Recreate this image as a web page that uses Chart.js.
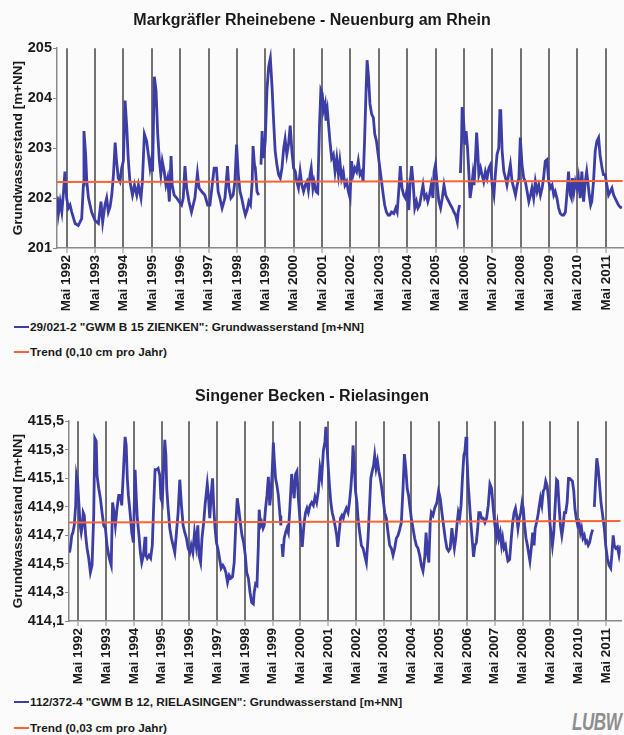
<!DOCTYPE html>
<html>
<head>
<meta charset="utf-8">
<script src="https://cdn.jsdelivr.net/npm/chart.js@4.4.0/dist/chart.umd.min.js"></script>
<style>
html,body{margin:0;padding:0;background:#fbfbfb;}
body{width:624px;height:735px;position:relative;overflow:hidden;font-family:"Liberation Sans",Arial,sans-serif;color:#1a1a1a;}
canvas{position:absolute;left:0;}
#c1{top:0;}
#c2{top:370px;}
.row{position:absolute;left:14px;white-space:nowrap;font-weight:bold;font-size:11.8px;line-height:14px;height:14px;display:flex;align-items:center;}
.sym{display:inline-block;width:15px;height:2.5px;margin-right:1px;}
.logo{position:absolute;left:572px;top:708px;font-weight:bold;font-style:italic;font-size:18px;color:#8e8e8e;letter-spacing:-0.5px;transform:scale(0.95,1.35);transform-origin:left top;}
</style>
</head>
<body>
<canvas id="c1" width="624" height="318"></canvas>
<canvas id="c2" width="624" height="321"></canvas>
<div class="row" style="top:320px"><span class="sym" style="background:#3d3da6"></span><span id="lg1a"></span></div>
<div class="row" style="top:345px"><span class="sym" style="background:#f8643a"></span><span id="lg1b"></span></div>
<div class="row" style="top:695px"><span class="sym" style="background:#3d3da6"></span><span id="lg2a"></span></div>
<div class="row" style="top:721px"><span class="sym" style="background:#f8643a"></span><span id="lg2b"></span></div>
<div class="logo">LUBW</div>
<script>
// ---------- texts ----------
const title1 = 'Markgräfler Rheinebene - Neuenburg am Rhein';
const title2 = 'Singener Becken - Rielasingen';
const yTitle = 'Grundwasserstand [m+NN]';
const seriesName1 = '29/021-2 "GWM B 15 ZIENKEN": Grundwasserstand [m+NN]';
const trendName1 = 'Trend (0,10 cm pro Jahr)';
const seriesName2 = '112/372-4 "GWM B 12, RIELASINGEN": Grundwasserstand [m+NN]';
const trendName2 = 'Trend (0,03 cm pro Jahr)';

// ---------- ticks ----------
const tickYears = [1992,1993,1994,1995,1996,1997,1998,1999,2000,2001,2002,2003,2004,2005,2006,2007,2008,2009,2010,2011];
const tickMonthLabel = 'Mai';
const yTicks1 = [201,202,203,204,205];
const yTicks2 = [414.1,414.3,414.5,414.7,414.9,415.1,415.3,415.5];

// ---------- chart 1: Neuenburg (decimal years / m+NN) ----------
const dates1 = [
1992.00,1992.04,1992.10,1992.16,1992.22,1992.27,1992.33,1992.39,1992.45,1992.51,1992.63,1992.74,1992.86,1992.92,1992.94,1993.00,1993.04,1993.10,1993.21,1993.33,
1993.45,1993.54,1993.60,1993.68,1993.74,1993.80,1993.86,1993.92,1993.98,1994.04,1994.09,1994.15,1994.21,1994.27,1994.33,1994.39,1994.45,1994.50,1994.56,1994.65,
1994.72,1994.80,1994.86,1994.95,1995.00,1995.07,1995.15,1995.21,1995.27,1995.33,1995.36,1995.42,1995.48,1995.54,1995.60,1995.65,1995.70,1995.77,1995.83,1995.89,
1995.95,1996.01,1996.05,1996.12,1996.21,1996.29,1996.38,1996.44,1996.50,1996.56,1996.64,1996.73,1996.85,1996.94,1997.00,1997.09,1997.20,1997.30,1997.38,1997.46,
1997.53,1997.61,1997.67,1997.73,1997.81,1997.91,1998.00,1998.05,1998.12,1998.20,1998.26,1998.32,1998.38,1998.44,1998.50,1998.57,1998.63,1998.69,1998.75,1998.81,
1998.87,1998.90,1998.95,1998.98,1999.04,1999.10,1999.14,1999.18,1999.22,1999.27,1999.33,1999.39,1999.45,1999.51,1999.57,1999.63,1999.68,1999.74,1999.80,1999.86,
1999.92,1999.98,2000.03,2000.09,2000.15,2000.21,2000.27,2000.33,2000.39,2000.44,2000.50,2000.56,2000.62,2000.68,2000.74,2000.80,2000.85,2000.91,2000.95,2001.01,
2001.05,2001.12,2001.18,2001.24,2001.29,2001.34,2001.38,2001.44,2001.47,2001.52,2001.57,2001.61,2001.67,2001.73,2001.79,2001.85,2001.91,2001.96,2002.02,2002.08,
2002.14,2002.20,2002.26,2002.32,2002.37,2002.43,2002.49,2002.55,2002.61,2002.67,2002.73,2002.78,2002.83,2002.88,2002.92,2002.97,2003.02,2003.08,2003.14,2003.19,
2003.25,2003.31,2003.37,2003.43,2003.49,2003.54,2003.60,2003.66,2003.72,2003.78,2003.86,2003.93,2003.98,2004.05,2004.09,2004.15,2004.21,2004.27,2004.34,2004.39,
2004.44,2004.49,2004.54,2004.60,2004.66,2004.71,2004.77,2004.83,2004.89,2004.95,2005.01,2005.06,2005.12,2005.18,2005.24,2005.28,2005.33,2005.39,2005.45,2005.51,
2005.57,2005.63,2005.69,2005.74,2005.80,2005.86,2005.92,2005.98,2006.04,2006.10,2006.13,2006.18,2006.19,2006.21,2006.25,2006.27,2006.32,2006.37,2006.41,2006.46,
2006.51,2006.55,2006.60,2006.65,2006.69,2006.74,2006.78,2006.82,2006.86,2006.92,2006.97,2007.03,2007.09,2007.15,2007.21,2007.27,2007.33,2007.39,2007.44,2007.50,
2007.56,2007.60,2007.63,2007.68,2007.74,2007.80,2007.85,2007.91,2007.97,2008.03,2008.09,2008.15,2008.21,2008.27,2008.32,2008.38,2008.44,2008.50,2008.56,2008.62,
2008.68,2008.73,2008.79,2008.85,2008.91,2008.97,2009.03,2009.09,2009.14,2009.20,2009.26,2009.32,2009.38,2009.44,2009.50,2009.55,2009.61,2009.67,2009.73,2009.79,
2009.85,2009.91,2009.96,2010.02,2010.08,2010.12,2010.16,2010.21,2010.26,2010.32,2010.37,2010.43,2010.49,2010.55,2010.61,2010.66,2010.70,2010.75,2010.80,2010.84,
2010.90,2010.96,2011.02,2011.08,2011.13,2011.20,2011.25,2011.31,2011.37,2011.43,2011.49,2011.55,2011.61,2011.66,2011.72,2011.78,2011.84,2011.90
];
const levels1 = [
202.03,201.69,201.93,201.72,202.13,202.53,202.00,201.80,201.86,201.72,201.49,201.45,201.59,202.26,203.34,202.87,202.33,202.00,201.72,201.55,
201.49,201.93,201.52,201.86,202.00,201.72,201.82,202.06,202.47,203.11,202.74,202.40,202.33,202.60,202.74,203.95,203.41,202.80,202.33,202.06,
202.26,202.06,202.26,202.00,202.33,203.28,203.14,202.87,202.60,202.80,202.53,204.43,204.16,203.28,202.74,202.47,202.74,202.53,202.26,202.40,
201.93,202.84,202.26,202.06,202.00,201.93,201.86,202.00,202.64,202.20,201.93,201.72,202.00,202.50,202.20,202.13,202.06,201.86,201.86,202.26,
202.60,202.60,202.13,202.00,201.80,202.00,202.64,202.20,202.00,202.06,202.33,203.07,202.47,202.13,202.00,201.80,201.66,201.76,201.93,201.86,
202.33,203.04,202.67,202.60,202.13,202.06,null,202.67,203.34,202.80,203.14,204.16,204.63,204.80,204.22,203.48,202.94,202.67,202.47,202.40,
202.60,203.00,203.18,202.87,203.07,203.45,202.94,202.60,202.53,202.33,202.20,202.53,202.26,202.13,202.26,202.33,202.16,202.47,202.60,202.20,
202.33,202.13,202.10,203.41,204.16,204.09,203.75,203.89,203.55,203.75,203.41,203.14,202.80,202.87,202.53,202.80,202.47,202.74,202.40,202.53,
202.26,202.33,202.13,202.00,202.74,202.47,202.60,202.53,202.74,202.47,202.53,202.33,203.14,204.09,204.76,204.43,203.89,203.68,203.61,203.28,
203.14,202.87,202.60,202.33,202.06,201.86,201.72,201.66,201.66,201.72,201.69,201.80,201.72,202.26,202.64,202.20,202.06,202.00,202.20,201.76,
202.33,202.64,202.33,201.80,201.93,201.80,201.86,202.06,202.26,202.00,202.06,201.93,202.06,202.26,202.00,202.53,202.67,202.26,201.93,201.80,
202.00,202.26,202.06,202.00,201.93,201.86,201.80,201.72,201.66,201.52,201.72,201.86,null,202.50,203.14,203.82,203.55,203.07,203.34,203.00,
202.47,202.00,202.20,202.47,202.26,202.80,203.31,202.94,202.47,202.60,202.47,202.33,202.53,202.40,202.60,202.67,202.26,202.06,202.47,202.87,
203.00,203.75,203.75,202.94,202.53,202.40,202.26,202.47,202.67,202.33,202.20,202.06,202.26,202.40,203.21,202.67,202.40,202.33,202.13,201.93,
202.06,202.20,202.00,202.33,202.13,202.26,202.06,202.20,202.40,202.74,202.77,202.33,202.20,202.26,202.06,202.13,202.00,201.80,201.69,201.66,
201.66,201.72,202.06,202.53,202.06,202.00,202.40,202.13,202.33,202.20,202.40,202.00,202.53,201.93,202.33,202.53,202.33,202.06,201.86,201.93,
202.33,202.94,203.14,203.21,202.87,202.60,202.47,202.47,202.26,202.06,202.13,202.20,202.06,202.00,201.93,201.86,201.82,201.80
];
const trendDates1 = [1991.99, 2011.93];
const trend1 = [202.32, 202.34];

// ---------- chart 2: Rielasingen ----------
const dates2 = [
1992.02,1992.06,1992.10,1992.14,1992.19,1992.24,1992.27,1992.31,1992.36,1992.40,1992.44,1992.48,1992.51,1992.55,1992.60,1992.65,1992.71,1992.77,1992.83,1992.89,
1992.93,1992.98,1993.01,1993.07,1993.13,1993.19,1993.25,1993.31,1993.37,1993.43,1993.49,1993.52,1993.57,1993.62,1993.67,1993.73,1993.79,1993.85,1993.90,1993.96,
1994.02,1994.06,1994.10,1994.14,1994.20,1994.26,1994.32,1994.38,1994.42,1994.46,1994.52,1994.57,1994.62,1994.68,1994.74,1994.77,1994.82,1994.88,1994.94,1995.00,
1995.05,1995.10,1995.15,1995.21,1995.27,1995.31,1995.36,1995.40,1995.45,1995.49,1995.52,1995.57,1995.63,1995.69,1995.75,1995.81,1995.87,1995.93,1995.99,1996.05,
1996.11,1996.17,1996.23,1996.29,1996.35,1996.40,1996.46,1996.52,1996.58,1996.64,1996.68,1996.74,1996.79,1996.85,1996.90,1996.98,1997.02,1997.07,1997.12,1997.17,
1997.21,1997.26,1997.31,1997.36,1997.42,1997.48,1997.54,1997.60,1997.65,1997.71,1997.77,1997.83,1997.89,1997.95,1998.01,1998.06,1998.11,1998.17,1998.23,1998.29,
1998.35,1998.40,1998.46,1998.52,1998.58,1998.64,1998.67,1998.72,1998.77,1998.82,1998.85,1998.90,1998.94,1998.99,1999.03,1999.08,1999.13,1999.18,1999.23,1999.27,
1999.32,1999.36,1999.39,1999.44,1999.49,1999.54,1999.60,1999.63,1999.65,1999.67,1999.70,1999.75,1999.80,1999.85,1999.90,1999.96,2000.02,2000.06,2000.11,2000.16,
2000.21,2000.26,2000.30,2000.35,2000.40,2000.44,2000.47,2000.52,2000.57,2000.62,2000.68,2000.74,2000.80,2000.86,2000.92,2000.98,2001.04,2001.10,2001.16,2001.22,
2001.25,2001.29,2001.34,2001.38,2001.43,2001.48,2001.53,2001.58,2001.64,2001.68,2001.73,2001.78,2001.83,2001.88,2001.93,2001.99,2002.05,2002.10,2002.15,2002.20,
2002.23,2002.27,2002.32,2002.37,2002.41,2002.47,2002.53,2002.59,2002.65,2002.71,2002.77,2002.82,2002.87,2002.92,2002.97,2003.01,2003.06,2003.11,2003.16,2003.21,
2003.25,2003.31,2003.37,2003.43,2003.49,2003.55,2003.61,2003.67,2003.73,2003.79,2003.85,2003.91,2003.97,2004.03,2004.08,2004.13,2004.18,2004.23,2004.27,2004.33,
2004.39,2004.45,2004.51,2004.57,2004.63,2004.69,2004.75,2004.81,2004.86,2004.91,2004.96,2005.01,2005.05,2005.11,2005.17,2005.25,2005.31,2005.37,2005.43,2005.49,
2005.55,2005.61,2005.67,2005.73,2005.79,2005.83,2005.88,2005.93,2005.98,2006.02,2006.07,2006.12,2006.17,2006.22,2006.26,2006.30,2006.33,2006.38,2006.43,2006.48,
2006.53,2006.57,2006.62,2006.67,2006.72,2006.76,2006.81,2006.86,2006.92,2006.98,2007.04,2007.10,2007.16,2007.22,2007.28,2007.34,2007.39,2007.43,2007.48,2007.53,
2007.58,2007.62,2007.67,2007.72,2007.77,2007.81,2007.87,2007.93,2007.98,2008.03,2008.08,2008.12,2008.17,2008.22,2008.27,2008.32,2008.36,2008.41,2008.46,2008.51,
2008.55,2008.60,2008.65,2008.70,2008.75,2008.79,2008.84,2008.89,2008.94,2008.98,2009.03,2009.08,2009.13,2009.17,2009.22,2009.27,2009.32,2009.37,2009.41,2009.46,
2009.51,2009.56,2009.60,2009.65,2009.70,2009.75,2009.80,2009.84,2009.89,2009.94,2009.99,2010.03,2010.08,2010.13,2010.18,2010.22,2010.27,2010.32,2010.37,2010.42,
2010.46,2010.51,2010.56,2010.61,2010.65,2010.70,2010.75,2010.80,2010.86,2010.88,2010.92,2010.97,2011.01,2011.06,2011.11,2011.16,2011.22,2011.28,2011.33,2011.39,
2011.45,2011.51,2011.55,2011.60,2011.64,2011.69,2011.75,2011.81,2011.87
];
const levels2 = [
414.58,414.63,414.70,414.72,414.77,414.91,415.12,415.08,414.91,414.77,414.72,414.77,414.86,414.84,414.70,414.61,414.54,414.44,414.49,414.84,
415.38,415.36,415.12,415.03,414.96,414.86,414.77,414.75,414.63,414.56,414.51,414.49,414.93,414.86,414.77,414.89,414.98,414.98,414.91,415.15,
415.39,415.33,415.10,414.98,414.86,414.72,414.65,415.16,414.98,414.82,414.70,414.58,414.51,414.56,414.69,414.56,414.54,414.56,414.54,414.63,
414.91,415.16,415.16,415.17,415.12,414.96,414.93,415.15,415.37,415.26,415.03,414.89,414.75,414.68,414.63,414.58,414.72,414.86,415.09,414.91,
414.77,414.72,414.68,414.61,414.58,414.63,414.58,414.72,414.63,414.77,414.56,414.51,414.68,414.79,414.91,415.06,414.98,414.82,414.98,415.10,
414.91,414.75,414.65,414.61,414.54,414.47,414.49,414.47,414.44,414.37,414.42,414.40,414.41,414.51,414.79,414.96,414.89,414.79,414.70,414.65,
414.56,414.44,414.40,414.30,414.23,414.22,414.30,414.36,414.35,414.63,414.88,414.77,414.79,414.75,414.77,414.89,414.98,415.11,414.91,414.98,
415.15,415.35,415.24,415.10,415.05,414.98,414.84,414.77,null,414.64,414.55,414.68,414.72,414.75,414.72,414.91,415.13,415.05,414.96,415.13,
415.15,414.96,414.86,414.72,414.62,414.72,414.79,414.86,414.89,414.86,414.91,414.93,414.91,414.97,414.93,415.01,415.17,415.10,415.29,415.36,
415.46,415.33,415.17,415.05,414.93,414.86,414.82,414.77,414.70,414.62,414.72,414.82,414.84,414.82,414.86,414.89,414.86,414.93,415.03,415.17,
415.33,415.22,415.01,414.93,414.82,414.72,414.63,414.61,414.56,414.51,414.68,414.89,415.10,415.15,415.19,415.26,415.17,415.22,415.15,415.10,
415.05,414.96,414.86,414.82,414.72,414.63,414.61,414.56,414.61,414.68,414.70,414.74,414.79,415.03,415.27,415.17,415.03,414.98,414.91,414.82,
414.75,414.68,414.63,414.61,414.56,414.49,414.45,414.54,414.72,414.58,414.51,414.79,414.86,414.84,414.89,414.93,415.01,414.96,414.86,414.77,
414.68,414.61,414.59,414.61,414.75,414.68,414.61,414.68,414.79,414.86,414.82,414.91,415.10,415.26,415.29,415.39,415.26,415.05,414.91,414.77,
414.65,414.55,414.63,414.65,414.75,414.86,414.86,414.82,414.82,414.79,414.82,414.91,415.06,415.03,414.89,414.77,414.70,414.77,414.68,414.72,
414.63,414.68,414.61,414.63,414.56,414.52,414.53,414.68,414.79,414.86,414.89,414.84,414.75,414.82,414.86,414.93,414.89,414.77,414.68,414.63,
414.58,414.52,414.61,414.72,414.63,414.75,414.79,414.84,414.91,414.96,414.91,415.01,415.03,415.08,415.05,414.96,414.79,414.70,414.63,414.72,
414.91,415.09,415.08,414.91,414.77,414.70,414.77,414.86,414.86,414.93,415.10,415.10,415.09,415.08,415.01,414.89,414.82,414.77,414.79,414.72,
414.75,414.68,414.70,414.65,414.66,414.63,414.65,414.70,414.74,null,414.90,415.10,415.24,415.17,415.05,414.93,414.84,414.75,414.63,414.54,
414.49,414.47,414.56,414.70,414.63,414.61,414.62,414.56,414.63
];
const trendDates2 = [1992.00, 2011.87];
const trend2 = [414.79, 414.80];

// ---------- rendering ----------
Chart.defaults.font.family = "'Liberation Sans', Arial, sans-serif";
Chart.defaults.color = '#1a1a1a';
const MAY = 4 / 12;
const BLUE = '#3d3da6';
const ORANGE = '#f8643a';

document.getElementById('lg1a').textContent = seriesName1;
document.getElementById('lg1b').textContent = trendName1;
document.getElementById('lg2a').textContent = seriesName2;
document.getElementById('lg2b').textContent = trendName2;

function pts(xs, ys) { return xs.map((x, i) => ({ x: x, y: ys[i] })); }
function fmtDe(v, digits) { return v.toFixed(digits).replace('.', ','); }

function build(id, o) {
  return new Chart(document.getElementById(id), {
    type: 'line',
    data: {
      datasets: [
        { label: o.trendName, data: pts(o.trendDates, o.trend), borderColor: ORANGE, borderWidth: 2, pointRadius: 0, tension: 0, order: 0 },
        { label: o.seriesName, data: pts(o.dates, o.levels), borderColor: BLUE, borderWidth: 2.8, pointRadius: 0, tension: 0, spanGaps: false, order: 1 }
      ]
    },
    options: {
      responsive: false, animation: false,
      layout: { padding: { left: 0, right: 0, top: 0, bottom: 0 } },
      plugins: {
        legend: { display: false }, tooltip: { enabled: false },
        title: { display: true, text: o.title, color: '#1a1a1a', font: { size: 16, weight: 'bold' }, padding: o.titlePad }
      },
      scales: {
        x: {
          type: 'linear', min: o.xMin, max: o.xMax,
          afterBuildTicks: s => { s.ticks = tickYears.map(y => ({ value: y + MAY })); },
          afterFit: s => { s.height = 70; },
          ticks: { autoSkip: false, maxRotation: 90, minRotation: 90, padding: 2, color: '#1a1a1a',
                   font: { size: 13.5, weight: 'bold' },
                   callback: v => tickMonthLabel + ' ' + Math.floor(v) },
          grid: { color: 'rgba(80,80,80,0.8)', lineWidth: 2, tickLength: 5, tickColor: '#8a8a8a', tickWidth: 1 },
          border: { display: true, color: '#8a8a8a', width: 1.5 }
        },
        y: {
          min: o.yMin, max: o.yMax,
          afterBuildTicks: s => { s.ticks = o.yTicks.map(v => ({ value: v })); },
          afterFit: s => { s.width = o.yWidth; },
          ticks: { padding: 1, color: '#1a1a1a', font: { size: 14.5, weight: 'bold' },
                   callback: v => fmtDe(v, o.digits) },
          grid: { drawOnChartArea: false, tickLength: 4, color: '#8a8a8a' },
          border: { display: true, color: '#8a8a8a', width: 1.5 },
          title: { display: true, text: yTitle, color: '#1a1a1a', font: { size: 13.5, weight: 'bold' }, padding: { top: 10, bottom: 0 } }
        }
      }
    }
  });
}

build('c1', { title: title1, titlePad: { top: 11, bottom: 18 }, dates: dates1, levels: levels1, trendDates: trendDates1, trend: trend1,
  seriesName: seriesName1, trendName: trendName1, xMin: 1991.99, xMax: 2011.93, yMin: 201, yMax: 205, yTicks: yTicks1, digits: 0, yWidth: 57 });
build('c2', { title: title2, titlePad: { top: 17, bottom: 15 }, dates: dates2, levels: levels2, trendDates: trendDates2, trend: trend2,
  seriesName: seriesName2, trendName: trendName2, xMin: 1992.0, xMax: 2011.87, yMin: 414.1, yMax: 415.5, yTicks: yTicks2, digits: 1, yWidth: 69 });
</script>
</body>
</html>
